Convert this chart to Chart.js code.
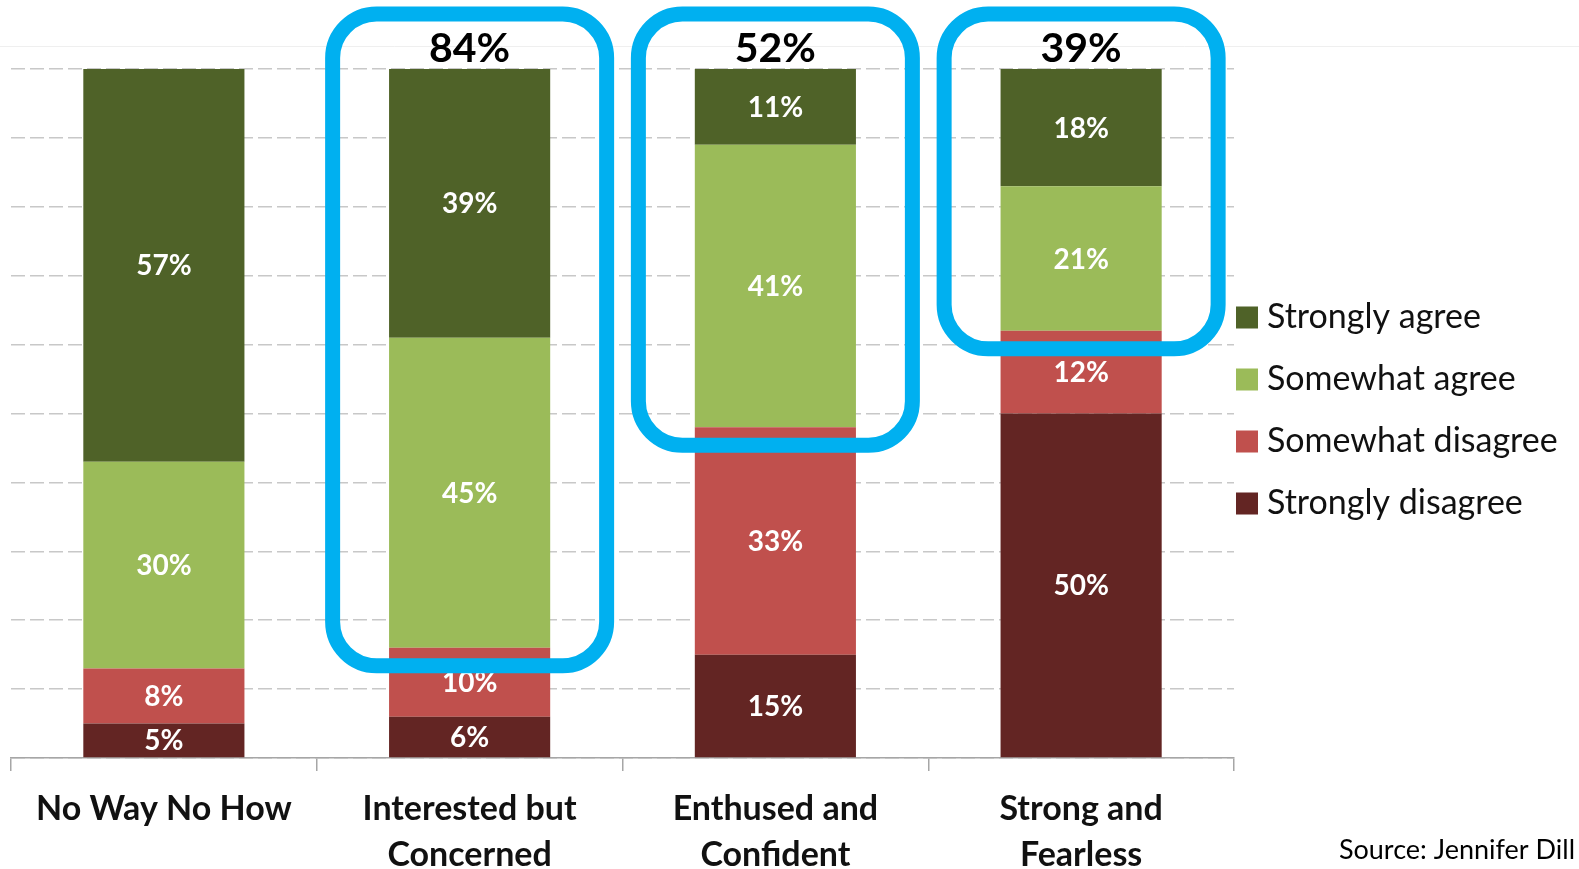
<!DOCTYPE html>
<html>
<head>
<meta charset="utf-8">
<title>Bicycle survey by rider type</title>
<script src="https://cdn.jsdelivr.net/npm/chart.js@4"></script>
<style>
  html, body { margin: 0; padding: 0; background: #fff; }
</style>
</head>
<body>
<canvas id="surveyChart" width="1579" height="869"></canvas>
<script>
// rider types along the x axis (multi-line labels)
var categories = [['No Way No How'], ['Interested but', 'Concerned'], ['Enthused and', 'Confident'], ['Strong and', 'Fearless']];

// answers, stacked bottom to top
var seriesNames = ['Strongly disagree', 'Somewhat disagree', 'Somewhat agree', 'Strongly agree'];
var strongDisagree = [5, 6, 15, 50];
var someDisagree = [8, 10, 33, 12];
var someAgree = [30, 45, 41, 21];
var strongAgree = [57, 39, 11, 18];
var seriesColors = ['#632523', '#c0504d', '#9bbb59', '#4f6228'];

// rider types whose "agree" share gets circled
var highlighted = [1, 2, 3];

var FONT = 'Lato, "Open Sans", sans-serif';

// white % labels inside each segment
var segmentLabels = {
    id: 'segmentLabels',
    afterDatasetsDraw: function(chart) {
        var ctx = chart.ctx;
        var area = chart.chartArea;
        ctx.save();
        ctx.fillStyle = '#fff';
        ctx.font = 'bold 28px ' + FONT;
        ctx.textAlign = 'center';
        ctx.textBaseline = 'middle';
        chart.data.datasets.forEach(function(ds, di) {
            chart.getDatasetMeta(di).data.forEach(function(bar, i) {
                var top = Math.max(bar.y, area.top);
                ctx.fillText(ds.data[i] + '%', bar.x, (top + bar.base) / 2 + 1);
            });
        });
        ctx.restore();
    }
};

// blue rounded boxes round the agree segments, with the agree total on top
var agreeBoxes = {
    id: 'agreeBoxes',
    afterDatasetsDraw: function(chart) {
        var ctx = chart.ctx;
        var x = chart.scales.x, y = chart.scales.y;
        var area = chart.chartArea;
        ctx.save();
        highlighted.forEach(function(i) {
            var cx = x.getPixelForValue(i);
            var base = y.getPixelForValue(strongDisagree[i] + someDisagree[i]);
            var left = cx - 137, right = cx + 137;
            var top = area.top - 55, bottom = base + 18;
            ctx.beginPath();
            ctx.roundRect(left, top, right - left, bottom - top, 44);
            ctx.lineWidth = 15;
            ctx.strokeStyle = '#00b0f0';
            ctx.stroke();

            ctx.fillStyle = '#000';
            ctx.font = 'bold 41px ' + FONT;
            ctx.textAlign = 'center';
            ctx.textBaseline = 'middle';
            ctx.fillText((someAgree[i] + strongAgree[i]) + '%', cx, area.top - 20);
        });
        ctx.restore();
    }
};

// legend on the right, top entry = top of the stack
var sideLegend = {
    id: 'sideLegend',
    afterDraw: function(chart) {
        var ctx = chart.ctx;
        var area = chart.chartArea;
        var n = chart.data.datasets.length;
        var rowH = 62;
        var y0 = (area.top + area.bottom) / 2 - rowH * (n - 1) / 2 - 3;
        var x0 = area.right + 2;
        ctx.save();
        ctx.font = '34px ' + FONT;
        ctx.textAlign = 'left';
        ctx.textBaseline = 'middle';
        for (var k = 0; k < n; k++) {
            var ds = chart.data.datasets[n - 1 - k];
            var cy = y0 + k * rowH;
            ctx.fillStyle = ds.backgroundColor;
            ctx.fillRect(x0, cy - 11, 22, 22);
            ctx.fillStyle = '#111';
            ctx.fillText(ds.label, x0 + 31, cy);
        }
        ctx.restore();
    }
};

// faint rule across the top and the source line
var pageBits = {
    id: 'pageBits',
    beforeDraw: function(chart) {
        var ctx = chart.ctx;
        ctx.save();
        ctx.strokeStyle = '#efefef';
        ctx.lineWidth = 1;
        ctx.beginPath();
        ctx.moveTo(0, 46.5);
        ctx.lineTo(chart.width, 46.5);
        ctx.stroke();
        ctx.restore();
    },
    afterDraw: function(chart) {
        var ctx = chart.ctx;
        ctx.save();
        ctx.fillStyle = '#000';
        ctx.font = '27px ' + FONT;
        ctx.textAlign = 'right';
        ctx.textBaseline = 'middle';
        ctx.fillText('Source: Jennifer Dill', chart.width - 4, 850);
        ctx.restore();
    }
};

var seriesData = [strongDisagree, someDisagree, someAgree, strongAgree];

var chart = new Chart(document.getElementById('surveyChart'), {
    type: 'bar',
    data: {
        labels: categories,
        datasets: seriesNames.map(function(name, k) {
            return {
                label: name,
                data: seriesData[k],
                backgroundColor: seriesColors[k],
                borderWidth: 0,
                categoryPercentage: 1,
                barPercentage: 0.527,
                clip: 0
            };
        })
    },
    options: {
        responsive: false,
        animation: false,
        layout: { padding: { top: 69, right: 345, bottom: 0, left: 11 } },
        plugins: {
            legend: { display: false },
            tooltip: { enabled: false }
        },
        scales: {
            x: {
                stacked: true,
                afterFit: function(s) { s.height = 111; },
                grid: {
                    display: true,
                    drawOnChartArea: false,
                    drawTicks: true,
                    tickLength: 13,
                    offset: true,
                    color: '#a6a6a6',
                    lineWidth: 1.5
                },
                border: { display: true, color: '#a6a6a6', width: 1.5 },
                ticks: {
                    color: '#111',
                    padding: 15,
                    font: { family: FONT, size: 34, weight: 'bold', lineHeight: 1.35 },
                    maxRotation: 0,
                    autoSkip: false
                }
            },
            y: {
                stacked: true,
                min: 0,
                max: 100,
                afterFit: function(s) { s.width = 0; },
                ticks: { display: false, stepSize: 10 },
                grid: { color: '#c8c8c8', lineWidth: 1.5, drawTicks: false },
                border: { display: false, dash: [14, 5] }
            }
        }
    },
    plugins: [pageBits, segmentLabels, agreeBoxes, sideLegend]
});
</script>
</body>
</html>
